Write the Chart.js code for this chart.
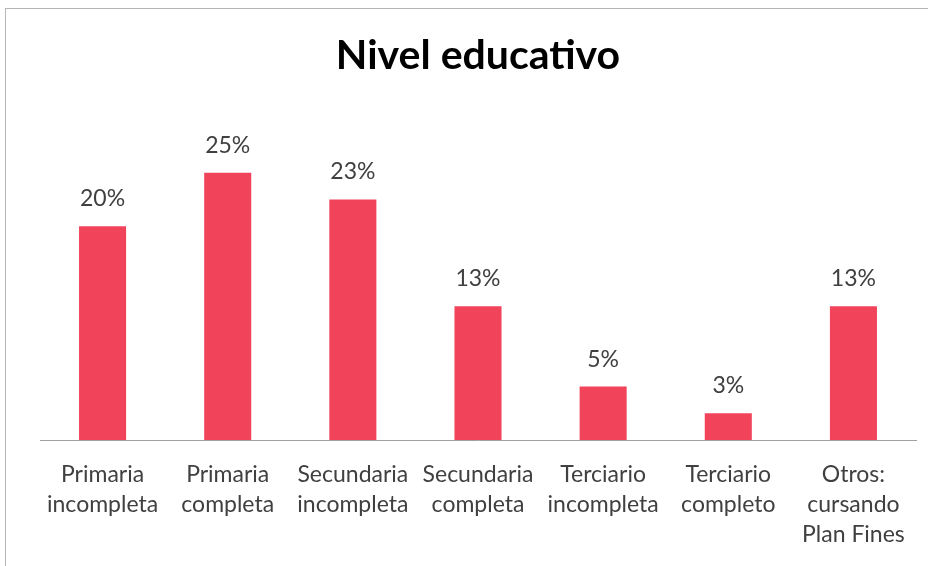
<!DOCTYPE html>
<html>
<head>
<meta charset="utf-8">
<script src="https://cdn.jsdelivr.net/npm/chart.js@4/dist/chart.umd.min.js"></script>
<style>
  html, body { margin: 0; padding: 0; background: #ffffff; }
  #wrap { position: relative; width: 928px; height: 566px; overflow: hidden; background: #fff; }
  #frame { position: absolute; left: 5px; top: 8px; width: 940px; height: 600px; border: 1px solid #b5b5b5; box-sizing: border-box; }
  canvas { position: absolute; left: 0; top: 0; }
</style>
</head>
<body>
<div id="wrap">
  <div id="frame"></div>
  <canvas id="c" width="928" height="566"></canvas>
</div>
<script>
const categories = [
  ["Primaria", "incompleta"],
  ["Primaria", "completa"],
  ["Secundaria", "incompleta"],
  ["Secundaria", "completa"],
  ["Terciario", "incompleta"],
  ["Terciario", "completo"],
  ["Otros:", "cursando", "Plan Fines"]
];
const values = [20, 25, 22.5, 12.5, 5, 2.5, 12.5];
const valueLabels = ["20%", "25%", "23%", "13%", "5%", "3%", "13%"];
const chartTitle = "Nivel educativo";

const barLabelPlugin = {
  id: 'barLabels',
  afterDatasetsDraw(chart) {
    const ctx = chart.ctx;
    const meta = chart.getDatasetMeta(0);
    ctx.save();
    ctx.font = '23px Lato';
    ctx.fillStyle = '#404040';
    ctx.textAlign = 'center';
    ctx.textBaseline = 'alphabetic';
    meta.data.forEach((bar, i) => {
      ctx.fillText(valueLabels[i], bar.x, bar.y - 20);
    });
    ctx.restore();
  }
};

new Chart(document.getElementById('c'), {
  type: 'bar',
  data: {
    labels: categories,
    datasets: [{
      data: values,
      backgroundColor: '#f1435a',
      borderWidth: 0,
      categoryPercentage: 1,
      barPercentage: 0.376
    }]
  },
  options: {
    responsive: false,
    animation: false,
    devicePixelRatio: 1,
    layout: { padding: { left: 40, right: 12, top: 0, bottom: 0 } },
    plugins: {
      legend: { display: false },
      tooltip: { enabled: false },
      title: {
        display: true,
        text: chartTitle,
        color: '#000000',
        font: { family: 'Lato', size: 41, weight: 'bold' },
        padding: { top: 31, bottom: 39 }
      }
    },
    scales: {
      x: {
        grid: { display: false, drawTicks: false },
        border: { display: true, color: '#a0a0a0', width: 1 },
        ticks: {
          color: '#404040',
          font: { family: 'Lato', size: 23, lineHeight: 1.3 },
          padding: 20,
          maxRotation: 0,
          autoSkip: false
        },
        afterFit(scale) { scale.height = 126; }
      },
      y: {
        display: false,
        min: 0,
        max: 30
      }
    }
  },
  plugins: [barLabelPlugin]
});
</script>
</body>
</html>
